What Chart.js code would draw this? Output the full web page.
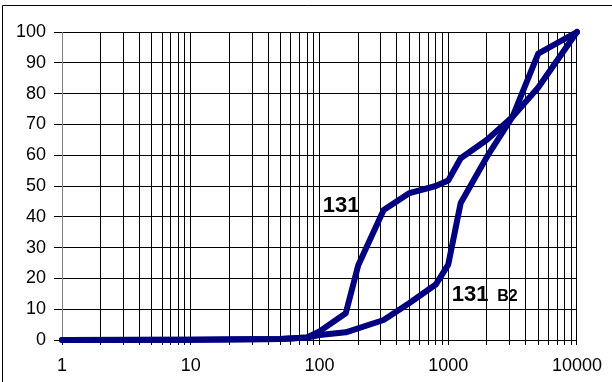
<!DOCTYPE html>
<html>
<head>
<meta charset="utf-8">
<script src="https://cdn.jsdelivr.net/npm/chart.js@4.4.1/dist/chart.umd.min.js"></script>
<style>
  html, body { margin: 0; padding: 0; background: #fff; }
  #wrap { width: 612px; height: 382px; position: relative; }
</style>
</head>
<body>
<div id="wrap"><canvas id="myChart" width="612" height="382"></canvas></div>
<script>
  // Sizes on the x axis (log scale) and the two cumulative curves
  var sizes131 = [1, 10, 50, 80, 100, 160, 200, 315, 500, 800, 1000, 1250, 2000, 3150, 5000, 10000];
  var values131 = [0, 0.1, 0.3, 0.8, 2.8, 8.7, 24.3, 42.2, 47.7, 50, 51.8, 59, 65, 72.4, 82, 100];

  var sizesB2 = [1, 10, 50, 80, 100, 160, 315, 500, 800, 1000, 1250, 2000, 3150, 5000, 10000];
  var valuesB2 = [0, 0.1, 0.3, 0.8, 1.6, 2.5, 6.5, 12, 18, 24.5, 44.5, 59.5, 72.4, 93, 100];

  var xTickLabels = [1, 10, 100, 1000, 10000];
  var yTicks = [0, 10, 20, 30, 40, 50, 60, 70, 80, 90, 100];

  // Text labels placed in data coordinates: [x, y, text, font size]
  var curveLabels = [
    [106, 41.6, '131', 22],
    [1067, 12.6, '131', 22],
    [2400, 12.6, 'B2', 16]
  ];

  function toPoints(xs, ys) {
    var pts = [];
    for (var i = 0; i < xs.length; i++) pts.push({ x: xs[i], y: ys[i] });
    return pts;
  }

  var fontFamily = 'Arial, "Liberation Sans", sans-serif';
  Chart.defaults.color = '#000';
  Chart.defaults.font.family = fontFamily;

  // Frame around the whole picture plus the curve labels
  var extras = {
    id: 'extras',
    beforeDraw: function(chart) {
      var ctx = chart.ctx;
      ctx.save();
      ctx.fillStyle = '#fff';
      ctx.fillRect(0, 0, chart.width, chart.height);
      ctx.strokeStyle = '#000';
      ctx.lineWidth = 1;
      ctx.beginPath();
      ctx.moveTo(2.5, chart.height);
      ctx.lineTo(2.5, 5.5);
      ctx.lineTo(chart.width, 5.5);
      ctx.stroke();
      ctx.restore();
    },
    afterDatasetsDraw: function(chart) {
      var ctx = chart.ctx;
      var xs = chart.scales.x, ys = chart.scales.y;
      ctx.save();
      ctx.fillStyle = '#000';
      ctx.textBaseline = 'alphabetic';
      ctx.textAlign = 'left';
      curveLabels.forEach(function(l) {
        ctx.font = 'bold ' + l[3] + 'px ' + fontFamily;
        ctx.fillText(l[2], xs.getPixelForValue(l[0]), ys.getPixelForValue(l[1]));
      });
      ctx.restore();
    }
  };

  var lineStyle = {
    borderColor: '#000080',
    borderWidth: 6,
    pointRadius: 0,
    fill: false,
    tension: 0,
    borderJoinStyle: 'round',
    borderCapStyle: 'round',
    clip: false
  };

  var ctx = document.getElementById('myChart').getContext('2d');
  var myChart = new Chart(ctx, {
    type: 'line',
    data: {
      datasets: [
        Object.assign({ label: '131', data: toPoints(sizes131, values131) }, lineStyle),
        Object.assign({ label: '131 B2', data: toPoints(sizesB2, valuesB2) }, lineStyle)
      ]
    },
    options: {
      responsive: false,
      animation: false,
      layout: { padding: { top: 32, right: 35, left: 0, bottom: 0 } },
      plugins: { legend: { display: false }, tooltip: { enabled: false } },
      scales: {
        x: {
          type: 'logarithmic',
          min: 1,
          max: 10000,
          afterBuildTicks: function(scale) {
            var t = [];
            for (var e = 0; e < 4; e++) {
              for (var m = 1; m < 10; m++) t.push({ value: m * Math.pow(10, e) });
            }
            t.push({ value: 10000 });
            scale.ticks = t;
          },
          afterFit: function(scale) { scale.height = 42; },
          ticks: {
            autoSkip: false,
            maxRotation: 0,
            padding: 10,
            font: { size: 18 },
            callback: function(value) {
              return xTickLabels.indexOf(value) >= 0 ? String(value) : '';
            }
          },
          grid: { color: '#000', lineWidth: 1, tickLength: 5 },
          border: { color: '#000' }
        },
        y: {
          min: 0,
          max: 100,
          afterBuildTicks: function(scale) {
            scale.ticks = yTicks.map(function(v) { return { value: v }; });
          },
          afterFit: function(scale) { scale.width = 62; },
          ticks: { padding: 8, font: { size: 18 } },
          grid: { color: '#000', lineWidth: 1, tickLength: 8 },
          border: { color: '#808080' }
        }
      }
    },
    plugins: [extras]
  });
</script>
</body>
</html>
